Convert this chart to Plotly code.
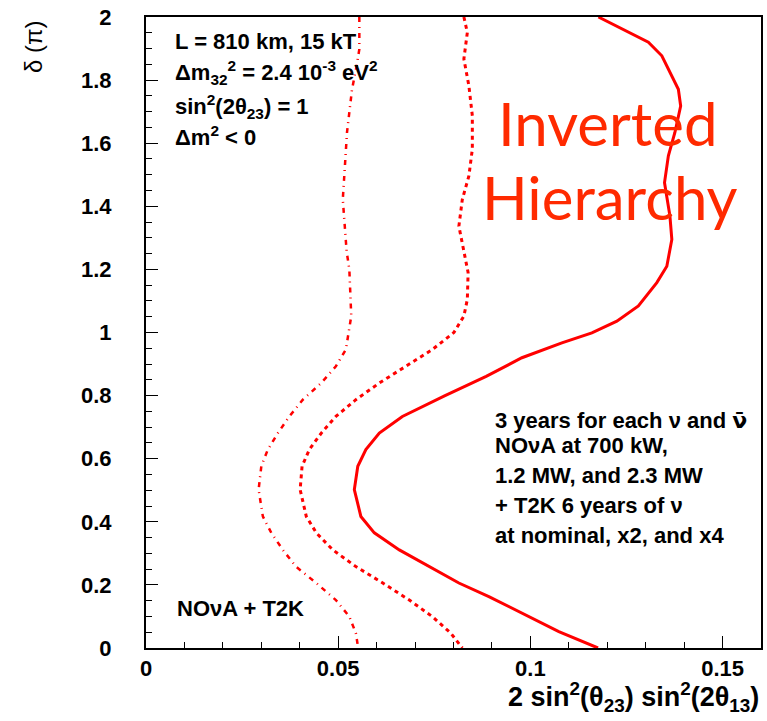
import plotly.graph_objects as go

# delta_CP (units of pi) vs. 3-sigma mass-hierarchy sensitivity in 2 sin^2(th23) sin^2(2th13)
# solid: NOvA 700 kW + T2K nominal
delta_700 = [2.0, 1.92, 1.877, 1.771, 1.718, 1.634, 1.56, 1.475, 1.37, 1.295, 1.21, 1.158,
             1.084, 1.036, 0.999, 0.967, 0.92, 0.861, 0.8, 0.734, 0.681, 0.629, 0.576,
             0.502, 0.417, 0.365, 0.311, 0.258, 0.206, 0.163, 0.1, 0.052, 0.0]
sens_700 = [0.1177, 0.1307, 0.1342, 0.1385, 0.1391, 0.1376, 0.1359, 0.1349, 0.1363, 0.1368,
            0.1355, 0.1329, 0.1281, 0.1225, 0.116, 0.1082, 0.0978, 0.0885, 0.0778, 0.0667,
            0.0607, 0.0572, 0.0551, 0.0542, 0.0559, 0.0594, 0.0659, 0.0737, 0.0814, 0.0892,
            0.0993, 0.1074, 0.1176]

# dashed: NOvA 1.2 MW + T2K x2
delta_1200 = [2.0, 1.951, 1.867, 1.782, 1.687, 1.581, 1.496, 1.422, 1.337, 1.257, 1.19,
              1.105, 1.052, 1.0, 0.946, 0.893, 0.84, 0.787, 0.734, 0.681, 0.629, 0.576,
              0.502, 0.417, 0.365, 0.311, 0.258, 0.206, 0.152, 0.0995, 0.047, 0.0]
sens_1200 = [0.0827, 0.0836, 0.0827, 0.084, 0.0849, 0.0849, 0.084, 0.0823, 0.0814, 0.0827,
             0.0838, 0.0836, 0.0827, 0.0801, 0.0745, 0.0676, 0.0607, 0.0546, 0.0494, 0.0456,
             0.0425, 0.0406, 0.0401, 0.0417, 0.0443, 0.0486, 0.0546, 0.0616, 0.0685, 0.0745,
             0.0793, 0.0823]

# dash-dotted: NOvA 2.3 MW + T2K x4
delta_2300 = [2.0, 1.898, 1.845, 1.771, 1.635, 1.528, 1.422, 1.257, 1.2, 1.052, 0.946,
              0.893, 0.84, 0.787, 0.734, 0.681, 0.629, 0.576, 0.502, 0.417, 0.365, 0.311,
              0.258, 0.206, 0.152, 0.0995, 0.047, 0.0]
sens_2300 = [0.0555, 0.0555, 0.0548, 0.0536, 0.0523, 0.0518, 0.0512, 0.0522, 0.0529, 0.0534,
             0.052, 0.0494, 0.0456, 0.0408, 0.0373, 0.0343, 0.0317, 0.030, 0.0293, 0.0304,
             0.0326, 0.0356, 0.039, 0.0443, 0.0494, 0.0529, 0.0546, 0.0552]

x_ticks = [0, 0.05, 0.1, 0.15]
x_tick_text = ["0", "0.05", "0.1", "0.15"]
y_ticks = [0, 0.2, 0.4, 0.6, 0.8, 1.0, 1.2, 1.4, 1.6, 1.8, 2.0]
y_tick_text = ["0", "0.2", "0.4", "0.6", "0.8", "1", "1.2", "1.4", "1.6", "1.8", "2"]

RED = "#ff0000"
FONT = "Liberation Sans"

fig = go.Figure()
fig.add_trace(go.Scatter(x=sens_2300, y=delta_2300, mode="lines",
                         line=dict(color=RED, width=2.5, dash="5px,5px,1px,5px")))
fig.add_trace(go.Scatter(x=sens_1200, y=delta_1200, mode="lines",
                         line=dict(color=RED, width=3, dash="4px,4px")))
fig.add_trace(go.Scatter(x=sens_700, y=delta_700, mode="lines",
                         line=dict(color=RED, width=3)))

axis_common = dict(showgrid=False, zeroline=False, showline=True, mirror=True,
                   linecolor="black", linewidth=2, ticks="inside", tickcolor="black",
                   tickwidth=1, ticklen=12,
                   tickfont=dict(family=FONT, size=22, color="black", weight="bold"))

fig.update_xaxes(range=[0, 0.16], tickvals=x_ticks, ticktext=x_tick_text,
                 minor=dict(dtick=0.01, ticks="inside", ticklen=6, tickcolor="black"),
                 ticklabelstandoff=0, **axis_common)
fig.update_yaxes(range=[0, 2], tickvals=y_ticks, ticktext=y_tick_text,
                 minor=dict(dtick=0.05, ticks="inside", ticklen=6, tickcolor="black"),
                 ticklabelstandoff=28, **axis_common)

bold = dict(family=FONT, size=22, color="black", weight="bold")
nubar = "<span style='font-family:DejaVu Sans'>ν\u0304</span>"
annotations = [
    dict(x=0.007, y=1.922, text="L = 810 km, 15 kT"),
    dict(x=0.007, y=1.825, text="Δm<sub>32</sub><sup>2</sup> = 2.4 10<sup>-3</sup> eV<sup>2</sup>"),
    dict(x=0.007, y=1.717, text="sin<sup>2</sup>(2θ<sub>23</sub>) = 1"),
    dict(x=0.007, y=1.622, text="Δm<sup>2</sup> &lt; 0"),
    dict(x=0.0075, y=0.124, text="NOνA + T2K"),
    dict(x=0.0902, y=0.722, text="3 years for each ν and " + nubar),
    dict(x=0.0902, y=0.641, text="NOνA at 700 kW,"),
    dict(x=0.0902, y=0.546, text="1.2 MW, and 2.3 MW"),
    dict(x=0.0902, y=0.451, text="+ T2K 6 years of ν"),
    dict(x=0.0902, y=0.356, text="at nominal, x2, and x4"),
]
for a in annotations:
    fig.add_annotation(xref="x", yref="y", xanchor="left", yanchor="middle",
                       showarrow=False, font=bold, **a)

hier_font = dict(family="Lato", size=60, color="#ff2a00")
fig.add_annotation(xref="x", yref="y", x=0.1201, y=1.664, text="Inverted",
                   showarrow=False, xanchor="center", yanchor="middle", font=hier_font)
fig.add_annotation(xref="x", yref="y", x=0.1206, y=1.43, text="Hierarchy",
                   showarrow=False, xanchor="center", yanchor="middle", font=hier_font)

# axis titles
fig.add_annotation(xref="paper", yref="paper", x=1.0, y=-0.078, xanchor="right",
                   yanchor="middle", showarrow=False,
                   text="2 sin<sup>2</sup>(θ<sub>23</sub>) sin<sup>2</sup>(2θ<sub>13</sub>)",
                   font=dict(family=FONT, size=27, color="black", weight="bold"))
fig.add_annotation(xref="paper", yref="paper", x=-0.183, y=0.953, textangle=-90,
                   xanchor="center", yanchor="middle", showarrow=False, text="δ (π)",
                   font=dict(family=FONT, size=24, color="black"))

fig.update_layout(width=767, height=721, showlegend=False,
                  paper_bgcolor="white", plot_bgcolor="white",
                  margin=dict(l=146, r=4, t=17, b=73))

fig.write_html("out.html")
